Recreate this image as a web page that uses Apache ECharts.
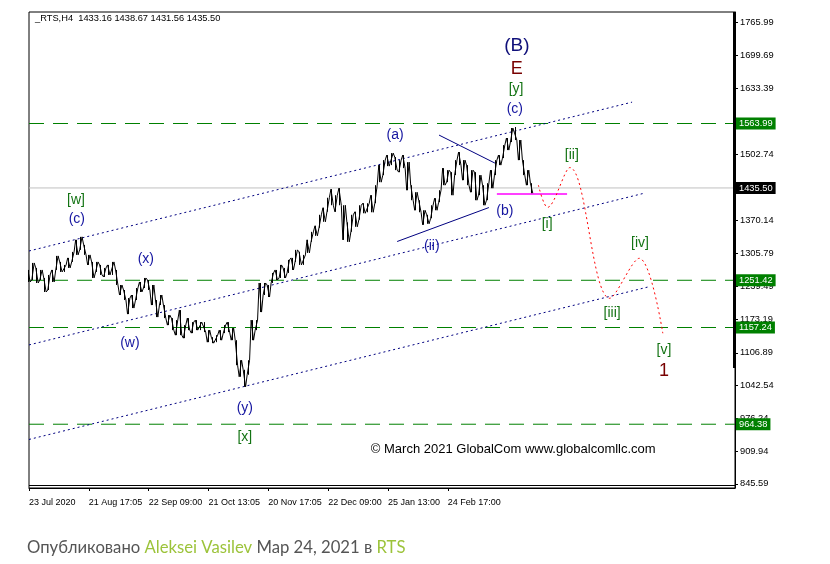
<!DOCTYPE html>
<html><head><meta charset="utf-8">
<script src="https://cdn.jsdelivr.net/npm/echarts@6/dist/echarts.min.js"></script>
<style>html,body{margin:0;padding:0;background:#fff}#c{width:830px;height:564px}</style>
</head><body><div id="c"></div>
<script>
// ---------- data ----------
const xTickLabels = ['23 Jul 2020','21 Aug 17:05','22 Sep 09:00','21 Oct 13:05','20 Nov 17:05','22 Dec 09:00','25 Jan 13:00','24 Feb 17:00'];
const barsPerTick = 15;
const barCount = 178;
const yTickValues = [1765.99,1699.69,1633.39,1502.74,1370.14,1305.79,1239.49,1173.19,1106.89,1042.54,976.24,909.94,845.59];
const yMin = 837.23, yMax = 1786.31;

const priceHigh = [1272,1286,1276,1272,1256,1262,1272,1300,1288,1282,1296,1308,1332,1338,1322,1302,1288,1288,1282,1276,
 1282,1288,1272,1242,1232,1216,1222,1236,1248,1256,1252,1242,1212,1222,1202,1182,1176,1172,1192,1162,
 1176,1168,1172,1168,1168,1152,1138,1142,1152,1162,1168,1156,1132,1092,1073,1092,1172,1172,1246,1246,
 1242,1266,1272,1282,1276,1292,1296,1312,1308,1302,1332,1348,1360,1382,1396,1416,1433,1421,1435,1401,
 1367,1382,1388,1401,1405,1405,1421,1441,1481,1491,1501,1505,1497,1491,1501,1487,1441,1427,1411,1391,
 1382,1401,1415,1431,1475,1471,1467,1491,1507,1491,1481,1471,1467,1461,1441,1445,1471,1491,1501,1521,
 1535,1555,1557,1531,1491,1471,1445];
const priceLow = [1248,1252,1246,1252,1228,1232,1248,1272,1268,1268,1276,1288,1302,1312,1302,1282,1256,1268,1262,1258,
 1262,1262,1242,1222,1212,1184,1196,1212,1228,1236,1232,1202,1178,1202,1176,1162,1152,1142,1142,1136,
 1152,1146,1152,1152,1148,1128,1126,1128,1132,1146,1148,1132,1082,1059,1039,1063,1132,1152,1188,1222,
 1218,1246,1252,1256,1256,1266,1272,1288,1282,1282,1306,1328,1340,1356,1368,1388,1401,1388,1401,1332,
 1328,1348,1358,1372,1385,1387,1387,1405,1447,1461,1479,1481,1471,1467,1475,1431,1411,1391,1387,1362,
 1364,1375,1391,1407,1441,1447,1421,1461,1481,1451,1441,1427,1411,1421,1401,1411,1435,1461,1481,1495,
 1511,1527,1531,1491,1461,1441,1425];

const levelValues = [1563.99, 1251.42, 1157.24, 964.38];
const lastPrice = 1435.50;
const headerText = '_RTS,H4  1433.16 1438.67 1431.56 1435.50';

// channel / pattern lines [barIndex, price]
const upperChannel = [[0,1309.8],[151.2,1606.6]];
const middleChannel = [[0,1122.5],[154.4,1425.3]];
const lowerChannel = [[0,934.0],[155.7,1239.0]];
const triangleUpper = [[102.8,1540.9],[116.8,1485.1]];
const triangleLower = [[92.3,1328.7],[115.3,1396.4]];
const supportLine = [[117.3,1423.3],[134.9,1423.3]];
const projection = [[127.7,1441.3],[130.0,1396.8],[135.6,1476.1],[145.6,1215.5],[153.0,1295.2],[158.9,1145.8]];

// wave annotations
const annotationTexts = ['(B)','E','[y]','(c)','(a)','[ii]','(b)','[i]','(ii)','[iv]','[iii]','[v]','1','[w]','(c)','(x)','(w)','(y)','[x]'];
const annotationX = [122.3,122.3,122.1,121.8,91.8,136.1,119.3,129.9,101.0,153.2,146.2,159.2,159.2,11.8,12.0,29.3,25.3,54.1,54.1];
const annotationY = [1718.2,1672.4,1632.5,1592.7,1540.9,1501.0,1389.5,1363.6,1319.7,1325.7,1186.3,1112.5,1070.7,1411.4,1373.5,1293.8,1126.5,997.0,939.2];
const annotationKinds = ['bigBlue','bigRed','green','blue','blue','green','blue','green','blue','green','green','green','bigRed','green','blue','blue','blue','blue','green'];
const copyrightText = '© March 2021 GlobalCom www.globalcomllc.com';
const copyrightPos = [85.7, 913.3];

// ---------- build ----------
const categories = [];
for (let i = 0; i < barCount; i++) {
  categories.push(i % barsPerTick === 0 && xTickLabels[i / barsPerTick] ? xTickLabels[i / barsPerTick] : '');
}
const candles = priceHigh.map((h, i) => [priceLow[i], h, priceLow[i], h]);
// jagged trace joining each bar's extremes
const trace = [];
priceHigh.forEach((h, i) => {
  const a = i % 2 ? [priceLow[i], h] : [h, priceLow[i]];
  trace.push([i - 0.3, a[0]], [i + 0.3, a[1]]);
});

const kindStyle = {
  bigBlue: {color:'#10107a', fontSize:19},
  bigRed: {color:'#780000', fontSize:18},
  green: {color:'#137313', fontSize:14},
  blue: {color:'#1515a0', fontSize:14}
};
const annData = annotationTexts.map((t, i) => ({
  name: t, value: [annotationX[i], annotationY[i]],
  label: Object.assign({}, kindStyle[annotationKinds[i]])
}));

const FONT = 'Liberation Sans';

function lineSeries(data, color, type, extra) {
  return Object.assign({
    type:'line', xAxisIndex:1, yAxisIndex:0, data: data, symbol:'none', silent:true,
    lineStyle:{color: color, width:1, type: type}, z:3, animation:false
  }, extra || {});
}
function levelSeries(v, lineColor, boxColor, type) {
  return lineSeries([[0, v], [barCount - 1, v]], lineColor, type, {
    z:2,
    endLabel:{show:true, formatter:()=>v.toFixed(2), distance:1, fontFamily:FONT, fontSize:9.3,
      color:'#fff', backgroundColor:boxColor, padding:[2,3,1,3]}
  });
}
const levelSeriesList = [levelSeries(lastPrice, '#c0c0c0', '#000', 'solid')]
  .concat(levelValues.map(v => levelSeries(v, '#008000', '#008000', [15,9])));

const chart = echarts.init(document.getElementById('c'), null, {renderer:'canvas'});
chart.setOption({
  backgroundColor:'#fff',
  animation:false,
  title:[
    {text: headerText, left:35, top:14, padding:0, textStyle:{fontFamily:FONT, fontSize:9.3, fontWeight:'normal', color:'#000'}},
    {text: '{g|Опубликовано }{y|Aleksei Vasilev}{g| Мар 24, 2021 в }{y|RTS}', left:22, top:534,
     textStyle:{fontWeight:'normal', rich:{
       g:{fontFamily:'Lato', fontSize:16.7, fontWeight:'normal', color:'#555'},
       y:{fontFamily:'Lato', fontSize:16.7, fontWeight:'normal', color:'#9cc33a'}
     }}}
  ],
  grid:{left:29, right:95, top:12, bottom:76, show:true, borderColor:'#000', borderWidth:1, backgroundColor:'#fff'},
  xAxis:[
    {type:'category', data:categories, boundaryGap:false, gridIndex:0,
     axisLine:{show:true, onZero:false, lineStyle:{color:'#000'}},
     axisTick:{show:true, length:3, interval:(i,v)=>v!=='', lineStyle:{color:'#000'}},
     axisLabel:{interval:(i,v)=>v!=='', align:'left', margin:10, fontFamily:FONT, fontSize:9, color:'#000'},
     splitLine:{show:false}},
    {type:'value', min:0, max:barCount-1, gridIndex:0, show:false, axisLine:{onZero:false}}
  ],
  yAxis:[{type:'value', position:'right', min:yMin, max:yMax, scale:true,
    axisLine:{show:true, onZero:false, lineStyle:{color:'#000'}},
    axisTick:{show:true, inside:false, length:3, customValues:yTickValues, lineStyle:{color:'#000'}},
    axisLabel:{customValues:yTickValues, formatter:v=>v.toFixed(2), margin:5, fontFamily:FONT, fontSize:9.3, color:'#000'},
    splitLine:{show:false}}],
  graphic:[
    {type:'rect', shape:{x:733, y:12, width:3, height:356}, style:{fill:'#000'}, z:50},
    {type:'line', shape:{x1:29, y1:485.5, x2:735, y2:485.5}, style:{stroke:'#000', lineWidth:1}, z:50}
  ],
  series: levelSeriesList.concat([
    {type:'candlestick', xAxisIndex:0, yAxisIndex:0, data:candles, barWidth:1, z:4,
     itemStyle:{color:'#000', color0:'#000', borderColor:'#000', borderColor0:'#000', borderWidth:1}},
    lineSeries(trace, '#000', 'solid', {z:4}),
    lineSeries(upperChannel, '#000080', [2,3]),
    lineSeries(middleChannel, '#000080', [2,3]),
    lineSeries(lowerChannel, '#000080', [2,3]),
    lineSeries(triangleUpper, '#000080', 'solid'),
    lineSeries(triangleLower, '#000080', 'solid'),
    lineSeries(supportLine, '#ff00ff', 'solid', {lineStyle:{color:'#ff00ff', width:1.5, type:'solid'}}),
    lineSeries(projection, '#ff0000', [2,3], {smooth:0.35}),
    {type:'scatter', xAxisIndex:1, yAxisIndex:0, symbolSize:0, silent:true, z:6,
     itemStyle:{opacity:1},
     label:{show:true, position:'inside', formatter:'{b}', fontFamily:FONT},
     data:annData},
    {type:'scatter', xAxisIndex:1, yAxisIndex:0, symbolSize:0, silent:true, z:6,
     itemStyle:{opacity:1},
     label:{show:true, position:'right', distance:0, formatter:'{b}', fontFamily:FONT, fontSize:13, color:'#000'},
     data:[{name:copyrightText, value:copyrightPos}]}
  ])
});
</script></body></html>
